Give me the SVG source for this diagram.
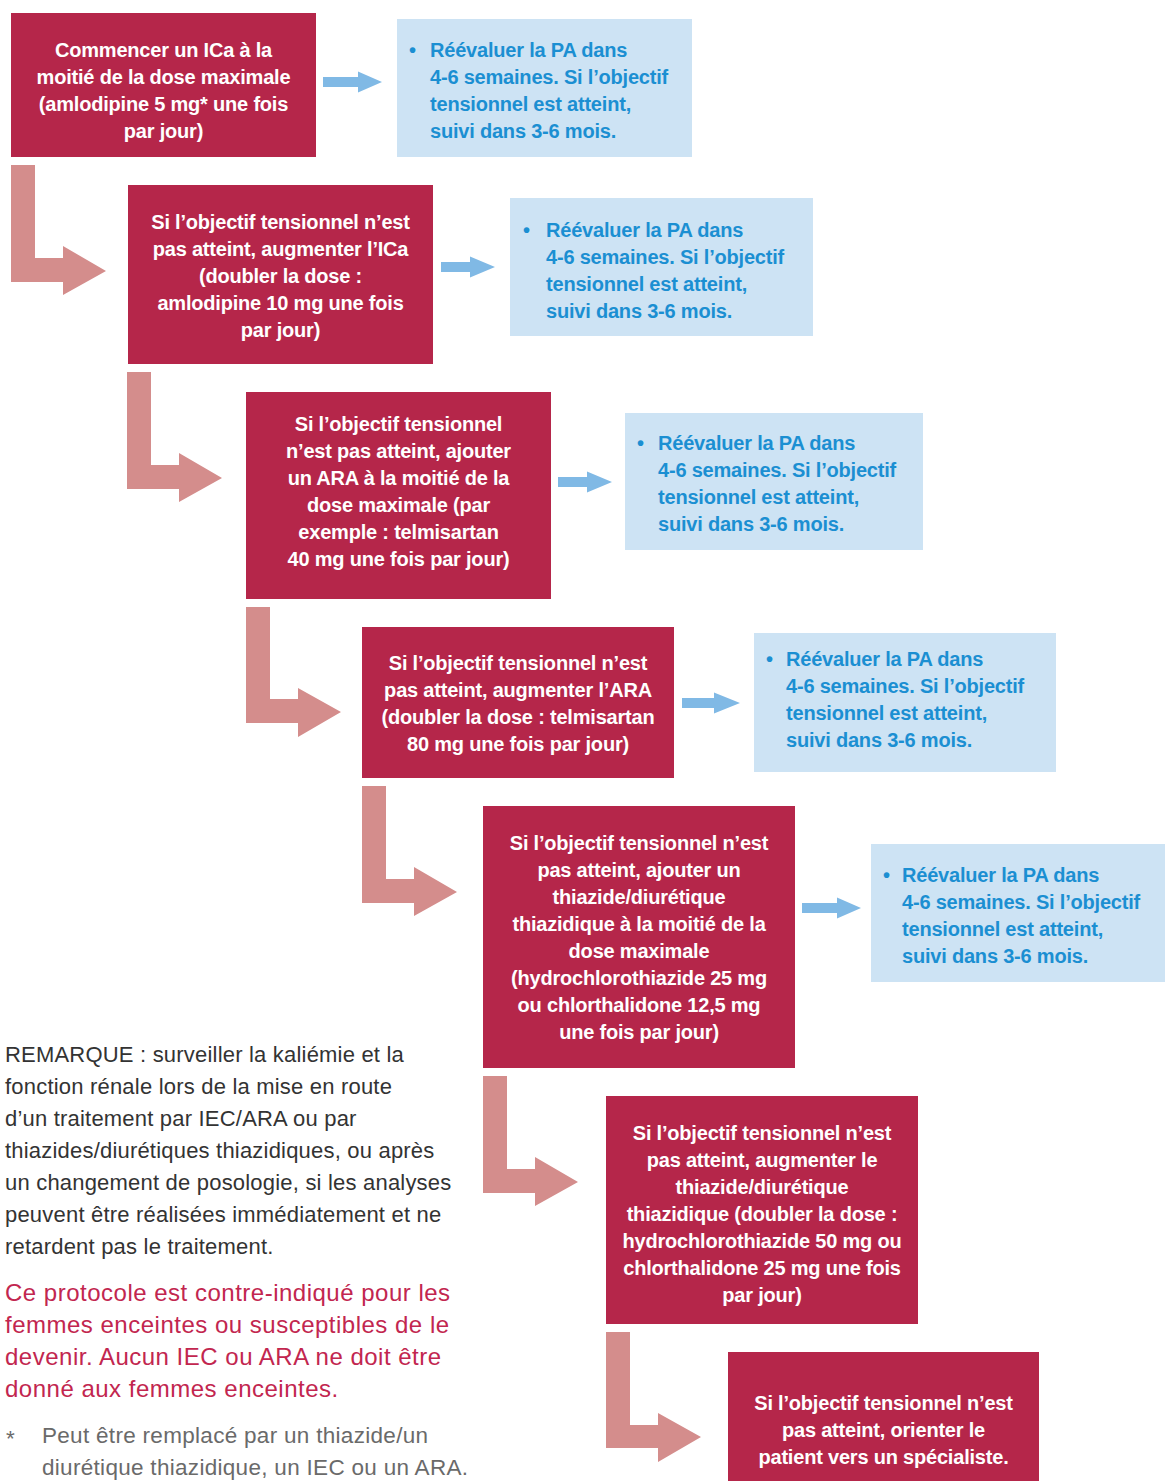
<svg xmlns="http://www.w3.org/2000/svg" width="1165" height="1481" viewBox="0 0 1165 1481">
<style>
.box{fill:#b5264a}
.info{fill:#cde3f4}
.bt{font-family:"Liberation Sans",Arial,sans-serif;font-weight:bold;font-size:20px;letter-spacing:-0.2px;fill:#ffffff;text-anchor:middle}
.it{font-family:"Liberation Sans",Arial,sans-serif;font-weight:bold;font-size:20px;letter-spacing:-0.2px;fill:#1b8fd2}
.lar{fill:#d48d8c}
.bar{fill:#80b9e5}
.note{font-family:"Liberation Sans",Arial,sans-serif;font-size:22px;letter-spacing:0.2px;fill:#333333}
.warn{font-family:"Liberation Sans",Arial,sans-serif;font-size:24px;letter-spacing:0.5px;fill:#c2264f}
.foot{font-family:"Liberation Sans",Arial,sans-serif;font-size:22.5px;letter-spacing:0.3px;fill:#6a6a6a}
</style>

<g id="connectors">
  <path class="lar" d="M11,165 H35 V258 H63 V246 L106,271 L63,295 V282 H11 Z"/>
  <path class="lar" d="M127,372 H151 V465 H179 V453 L222,478 L179,502 V489 H127 Z"/>
  <path class="lar" d="M246,607 H270 V699 H298 V688 L341,712 L298,737 V723 H246 Z"/>
  <path class="lar" d="M362,786 H386 V879 H414 V867 L457,892 L414,916 V903 H362 Z"/>
  <path class="lar" d="M483,1076 H507 V1169 H535 V1157 L578,1182 L535,1206 V1193 H483 Z"/>
  <path class="lar" d="M606,1332 H630 V1425 H658 V1413 L701,1437 L658,1462 V1448 H606 Z"/>
  <path class="bar" d="M323,77 H358 V71.5 L382,82 L358,92.5 V87 H323 Z"/>
  <path class="bar" d="M441,262 H470 V256.5 L495,267 L470,277.5 V272 H441 Z"/>
  <path class="bar" d="M558,477 H587 V471.5 L612,482 L587,492.5 V487 H558 Z"/>
  <path class="bar" d="M682,698 H714 V692.5 L740,703 L714,713.5 V708 H682 Z"/>
  <path class="bar" d="M802,903 H837 V897.5 L861,908 L837,918.5 V913 H802 Z"/>
</g>

<g id="step1">
  <rect class="box" x="11" y="13" width="305" height="144"/>
  <text class="bt" x="163.5" y="57">Commencer un ICa à la</text>
  <text class="bt" x="163.5" y="84">moitié de la dose maximale</text>
  <text class="bt" x="163.5" y="111">(amlodipine 5 mg* une fois</text>
  <text class="bt" x="163.5" y="138">par jour)</text>
</g>
<g id="info1">
  <rect class="info" x="397" y="19" width="295" height="138"/>
  <text class="it" x="409" y="57">•</text>
  <text class="it" x="430" y="57">Réévaluer la PA dans</text>
  <text class="it" x="430" y="84">4-6 semaines. Si l’objectif</text>
  <text class="it" x="430" y="111">tensionnel est atteint,</text>
  <text class="it" x="430" y="138">suivi dans 3-6 mois.</text>
</g>

<g id="step2">
  <rect class="box" x="128" y="185" width="305" height="179"/>
  <text class="bt" x="280.5" y="229">Si l’objectif tensionnel n’est</text>
  <text class="bt" x="280.5" y="256">pas atteint, augmenter l’ICa</text>
  <text class="bt" x="280.5" y="283">(doubler la dose :</text>
  <text class="bt" x="280.5" y="310">amlodipine 10 mg une fois</text>
  <text class="bt" x="280.5" y="337">par jour)</text>
</g>
<g id="info2">
  <rect class="info" x="510" y="198" width="303" height="138"/>
  <text class="it" x="523" y="237">•</text>
  <text class="it" x="546" y="237">Réévaluer la PA dans</text>
  <text class="it" x="546" y="264">4-6 semaines. Si l’objectif</text>
  <text class="it" x="546" y="291">tensionnel est atteint,</text>
  <text class="it" x="546" y="318">suivi dans 3-6 mois.</text>
</g>

<g id="step3">
  <rect class="box" x="246" y="392" width="305" height="207"/>
  <text class="bt" x="398.5" y="431">Si l’objectif tensionnel</text>
  <text class="bt" x="398.5" y="458">n’est pas atteint, ajouter</text>
  <text class="bt" x="398.5" y="485">un ARA à la moitié de la</text>
  <text class="bt" x="398.5" y="512">dose maximale (par</text>
  <text class="bt" x="398.5" y="539">exemple : telmisartan</text>
  <text class="bt" x="398.5" y="566">40 mg une fois par jour)</text>
</g>
<g id="info3">
  <rect class="info" x="625" y="413" width="298" height="137"/>
  <text class="it" x="637" y="450">•</text>
  <text class="it" x="658" y="450">Réévaluer la PA dans</text>
  <text class="it" x="658" y="477">4-6 semaines. Si l’objectif</text>
  <text class="it" x="658" y="504">tensionnel est atteint,</text>
  <text class="it" x="658" y="531">suivi dans 3-6 mois.</text>
</g>

<g id="step4">
  <rect class="box" x="362" y="627" width="312" height="151"/>
  <text class="bt" x="518" y="670">Si l’objectif tensionnel n’est</text>
  <text class="bt" x="518" y="697">pas atteint, augmenter l’ARA</text>
  <text class="bt" x="518" y="724">(doubler la dose : telmisartan</text>
  <text class="bt" x="518" y="751">80 mg une fois par jour)</text>
</g>
<g id="info4">
  <rect class="info" x="754" y="633" width="302" height="139"/>
  <text class="it" x="766" y="666">•</text>
  <text class="it" x="786" y="666">Réévaluer la PA dans</text>
  <text class="it" x="786" y="693">4-6 semaines. Si l’objectif</text>
  <text class="it" x="786" y="720">tensionnel est atteint,</text>
  <text class="it" x="786" y="747">suivi dans 3-6 mois.</text>
</g>

<g id="step5">
  <rect class="box" x="483" y="806" width="312" height="262"/>
  <text class="bt" x="639" y="850">Si l’objectif tensionnel n’est</text>
  <text class="bt" x="639" y="877">pas atteint, ajouter un</text>
  <text class="bt" x="639" y="904">thiazide/diurétique</text>
  <text class="bt" x="639" y="931">thiazidique à la moitié de la</text>
  <text class="bt" x="639" y="958">dose maximale</text>
  <text class="bt" x="639" y="985">(hydrochlorothiazide 25 mg</text>
  <text class="bt" x="639" y="1012">ou chlorthalidone 12,5 mg</text>
  <text class="bt" x="639" y="1039">une fois par jour)</text>
</g>
<g id="info5">
  <rect class="info" x="871" y="844" width="294" height="138"/>
  <text class="it" x="883" y="882">•</text>
  <text class="it" x="902" y="882">Réévaluer la PA dans</text>
  <text class="it" x="902" y="909">4-6 semaines. Si l’objectif</text>
  <text class="it" x="902" y="936">tensionnel est atteint,</text>
  <text class="it" x="902" y="963">suivi dans 3-6 mois.</text>
</g>

<g id="step6">
  <rect class="box" x="606" y="1096" width="312" height="228"/>
  <text class="bt" x="762" y="1140">Si l’objectif tensionnel n’est</text>
  <text class="bt" x="762" y="1167">pas atteint, augmenter le</text>
  <text class="bt" x="762" y="1194">thiazide/diurétique</text>
  <text class="bt" x="762" y="1221">thiazidique (doubler la dose :</text>
  <text class="bt" x="762" y="1248">hydrochlorothiazide 50 mg ou</text>
  <text class="bt" x="762" y="1275">chlorthalidone 25 mg une fois</text>
  <text class="bt" x="762" y="1302">par jour)</text>
</g>

<g id="step7">
  <rect class="box" x="728" y="1352" width="311" height="129"/>
  <text class="bt" x="883.5" y="1410">Si l’objectif tensionnel n’est</text>
  <text class="bt" x="883.5" y="1437">pas atteint, orienter le</text>
  <text class="bt" x="883.5" y="1464">patient vers un spécialiste.</text>
</g>

<g id="notes">
  <text class="note" x="5" y="1062">REMARQUE : surveiller la kaliémie et la</text>
  <text class="note" x="5" y="1094">fonction rénale lors de la mise en route</text>
  <text class="note" x="5" y="1126">d’un traitement par IEC/ARA ou par</text>
  <text class="note" x="5" y="1158">thiazides/diurétiques thiazidiques, ou après</text>
  <text class="note" x="5" y="1190">un changement de posologie, si les analyses</text>
  <text class="note" x="5" y="1222">peuvent être réalisées immédiatement et ne</text>
  <text class="note" x="5" y="1254">retardent pas le traitement.</text>
  <text class="warn" x="5" y="1301">Ce protocole est contre-indiqué pour les</text>
  <text class="warn" x="5" y="1333">femmes enceintes ou susceptibles de le</text>
  <text class="warn" x="5" y="1365">devenir. Aucun IEC ou ARA ne doit être</text>
  <text class="warn" x="5" y="1397">donné aux femmes enceintes.</text>
  <text class="foot" x="6" y="1446">*</text>
  <text class="foot" x="42" y="1443">Peut être remplacé par un thiazide/un</text>
  <text class="foot" x="42" y="1475">diurétique thiazidique, un IEC ou un ARA.</text>
</g>
</svg>
